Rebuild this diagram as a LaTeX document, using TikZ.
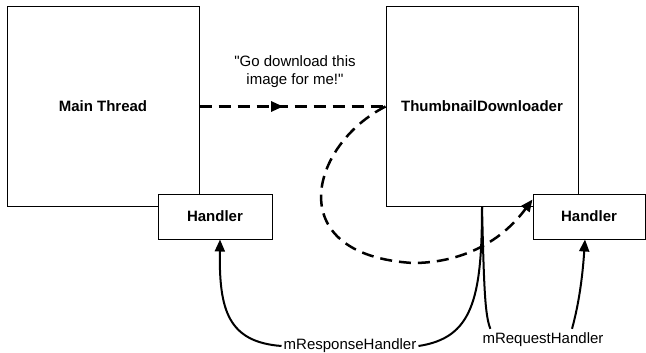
\documentclass[tikz,border=0pt]{standalone}
\usepackage{fontspec}
\setmainfont{Liberation Sans}[Ligatures=TeXOff]
\usetikzlibrary{arrows.meta,decorations.markings}
\tikzset{mytip/.tip={Triangle[length=12pt,width=10pt]}}
\begin{document}
\begin{tikzpicture}[x=1pt,y=-1pt,
  box/.style={draw=black,line width=1pt,fill=white,inner sep=0pt,font=\fontsize{15}{18}\selectfont\bfseries},
  lbl/.style={inner sep=2pt,font=\fontsize{15}{18}\selectfont,align=center},
  dsh/.style={line width=2.5pt,dash pattern=on 12pt off 7pt},
  sol/.style={line width=2pt}]
\useasboundingbox (0,0) rectangle (646,353);
% boxes
\node[box,minimum width=192pt,minimum height=199pt] (main) at (103,106.5) {Main Thread};
\node[box,minimum width=114pt,minimum height=45pt] (lh) at (215,216.5) {Handler};
\node[box,minimum width=192pt,minimum height=199pt] (thumb) at (482,106.5) {ThumbnailDownloader};
\node[box,minimum width=112pt,minimum height=45pt] (rh) at (589,216.5) {Handler};
% labels
\node[lbl] (msg) at (295,72) {"Go download this\\image for me!"};
\node[lbl] (resp) at (350,346) {mResponseHandler};
\node[lbl] (req) at (543,340) {mRequestHandler};
% dashed message arrow
\draw[dsh,decoration={markings,mark=at position 0.45 with {\arrow{mytip}}},postaction={decorate}]
  (main.east) -- (thumb.west);
% dashed loop to request handler
\draw[dsh,-{mytip}] (thumb.west) .. controls (310,145) and (280,255) .. (413,263)
  .. controls (450,263) and (495,250) .. ([yshift=17pt]rh.west);
% solid lines from downloader
\draw[sol] (thumb.south) .. controls (482,300) and (472,338) .. (resp.east);
\draw[sol] (thumb.south) .. controls (484,290) and (485,315) .. ([xshift=10pt,yshift=2pt]req.north west);
% arrows to handlers
\draw[sol,-{mytip}] (resp.west) .. controls (228,342) and (219,310) .. ([xshift=5pt]lh.south);
\draw[sol,-{mytip}] ([xshift=29pt,yshift=2pt]req.north) .. controls (580,300) and (583,270) .. ([xshift=-4pt]rh.south);
\end{tikzpicture}
\end{document}
